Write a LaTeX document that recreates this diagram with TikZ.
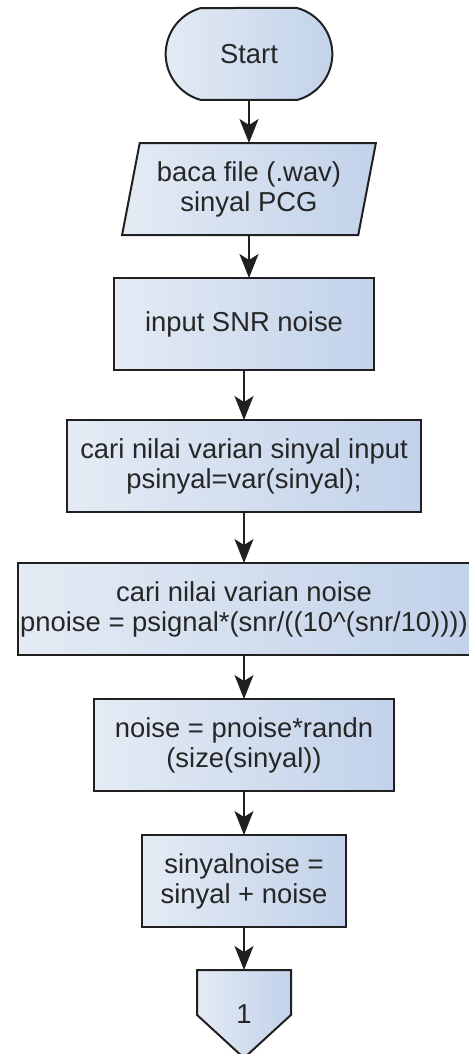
\documentclass[tikz,border=0pt]{standalone}
\usepackage{fontspec}
\setmainfont{Liberation Sans}
\usepackage{xcolor}
\usepackage{tikz}
\usetikzlibrary{arrows.meta,positioning,shapes.geometric,shapes.misc,calc,backgrounds}
\definecolor{inkK}{HTML}{262626}
\definecolor{cEdge}{HTML}{202020}
\definecolor{lBlueA}{HTML}{E4EBF4}
\definecolor{lBlueB}{HTML}{C2D2EA}

\begin{document}
\begin{tikzpicture}[
  every node/.style={font=\fontsize{13.7}{15}\selectfont, text=inkK, align=center, outer sep=0pt},
  boxfill/.style={draw=cEdge, line width=1pt, left color=lBlueA, right color=lBlueB},
  procbox/.style={boxfill, rectangle, minimum height=46pt, inner sep=0pt},
  termbox/.style={boxfill, rounded rectangle, rounded rectangle arc length=150,
                  minimum width=90pt, minimum height=46pt},
  iobox/.style={boxfill, trapezium, trapezium left angle=75, trapezium right angle=105,
                trapezium stretches=true, minimum width=127pt, minimum height=46pt, inner sep=0pt},
  flow/.style={draw=cEdge, line width=0.8pt, -{Stealth[length=12pt,width=9.5pt,inset=3pt]}},
]
  \useasboundingbox (0,0) rectangle (234.5pt,-527pt);

  \node[termbox] (start) at (124.5pt,-27pt) {Start};
  \node[iobox, below=21.5pt of start] (baca) {baca file (.wav)\\sinyal PCG};
  \node[procbox, minimum width=130pt, below=21.5pt of baca, xshift=-2.5pt] (snr) {input SNR noise};
  \node[procbox, minimum width=177pt, below=25pt of snr] (varsig)
    {cari nilai varian sinyal input\\psinyal=var(sinyal);};
  \node[procbox, minimum width=226pt, below=25.5pt of varsig] (varnoise)
    {cari nilai varian noise\\pnoise = psignal*(snr/((10\textasciicircum(snr/10))))};
  \node[procbox, minimum width=150pt, below=22pt of varnoise] (gen)
    {noise = pnoise*randn\\(size(sinyal))};
  \node[procbox, minimum width=102pt, below=22pt of gen] (mix) {sinyalnoise =\\sinyal + noise};
  \node[minimum width=47pt, minimum height=44pt, inner sep=0pt, below=21.5pt of mix] (off) {1};

  % off-page connector
  \begin{scope}[on background layer]
    \path[boxfill] (off.north west) -- (off.north east)
      -- ($(off.north east)!0.51!(off.south east)$) -- (off.south)
      -- ($(off.north west)!0.51!(off.south west)$) -- cycle;
  \end{scope}

  \draw[flow] (start) -- (baca);
  \draw[flow] (baca.south) -- (baca.south |- snr.north);
  \foreach \a/\b in {snr/varsig, varsig/varnoise, varnoise/gen, gen/mix, mix/off}
    \draw[flow] (\a) -- (\b);
\end{tikzpicture}
\end{document}
